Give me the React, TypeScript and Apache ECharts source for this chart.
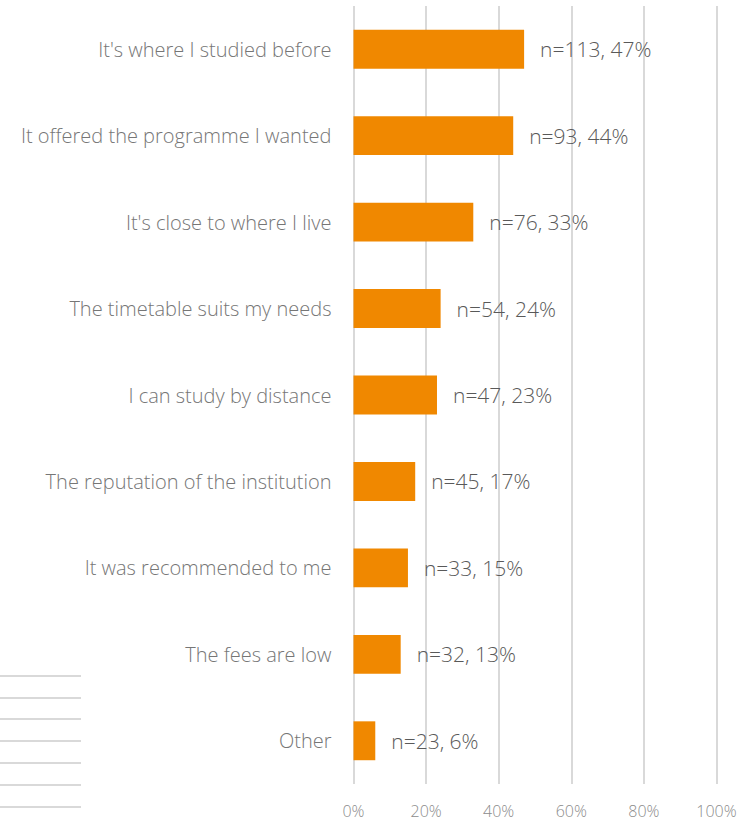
import React, { useEffect, useRef } from "react";
import * as echarts from "echarts";

const categories = [
  "It's where I studied before",
  "It offered the programme I wanted",
  "It's close to where I live",
  "The timetable suits my needs",
  "I can study by distance",
  "The reputation of the institution",
  "It was recommended to me",
  "The fees are low",
  "Other",
];
const percents = [47, 44, 33, 24, 23, 17, 15, 13, 6];
const counts = [113, 93, 76, 54, 47, 45, 33, 32, 23];
const xTicks = [0, 20, 40, 60, 80, 100];
const decoLineYs = [676, 698, 719, 741, 763, 785, 807];

const FONT = "'Open Sans', 'Noto Sans', sans-serif";

export default function App() {
  const ref = useRef<HTMLDivElement>(null);
  useEffect(() => {
    if (!ref.current) return;
    const chart = echarts.init(ref.current, undefined, { renderer: "svg" });
    const cats = [...categories].reverse();
    const vals = [...percents].reverse();
    const ns = [...counts].reverse();
    chart.setOption({
      animation: false,
      backgroundColor: "#ffffff",
      grid: { left: 353.5, right: 39.5, top: 6, bottom: 38, containLabel: false },
      xAxis: {
        type: "value",
        min: xTicks[0],
        max: xTicks[xTicks.length - 1],
        interval: 20,
        axisLine: { show: false },
        axisTick: { show: false },
        splitLine: { show: true, lineStyle: { color: "#d9d9d9", width: 2 } },
        axisLabel: {
          formatter: "{value}%",
          color: "#8c8c8c",
          fontSize: 16,
          fontFamily: FONT,
          fontWeight: 300,
          margin: 19,
        },
      },
      yAxis: {
        type: "category",
        data: cats,
        axisLine: { show: false },
        axisTick: { show: false },
        splitLine: { show: false },
        axisLabel: {
          color: "#767676",
          fontSize: 20,
          fontFamily: FONT,
          fontWeight: 300,
          margin: 22,
        },
      },
      series: [
        {
          type: "bar",
          data: vals,
          barWidth: "45%",
          itemStyle: { color: "#f08800" },
          label: {
            show: true,
            position: "right",
            distance: 16,
            color: "#595959",
            fontSize: 21,
            fontFamily: FONT,
            fontWeight: 300,
            formatter: (p: any) => `n=${ns[p.dataIndex]}, ${p.value}%`,
          },
        },
      ],
      graphic: decoLineYs.map((y) => ({
        type: "line",
        shape: { x1: 0, y1: y, x2: 81, y2: y },
        style: { stroke: "#d9d9d9", lineWidth: 2 },
        silent: true,
      })),
    });
    return () => chart.dispose();
  }, []);
  return (
    <div
      ref={ref}
      style={{ position: "fixed", left: 0, top: 0, width: 756, height: 822 }}
    />
  );
}
